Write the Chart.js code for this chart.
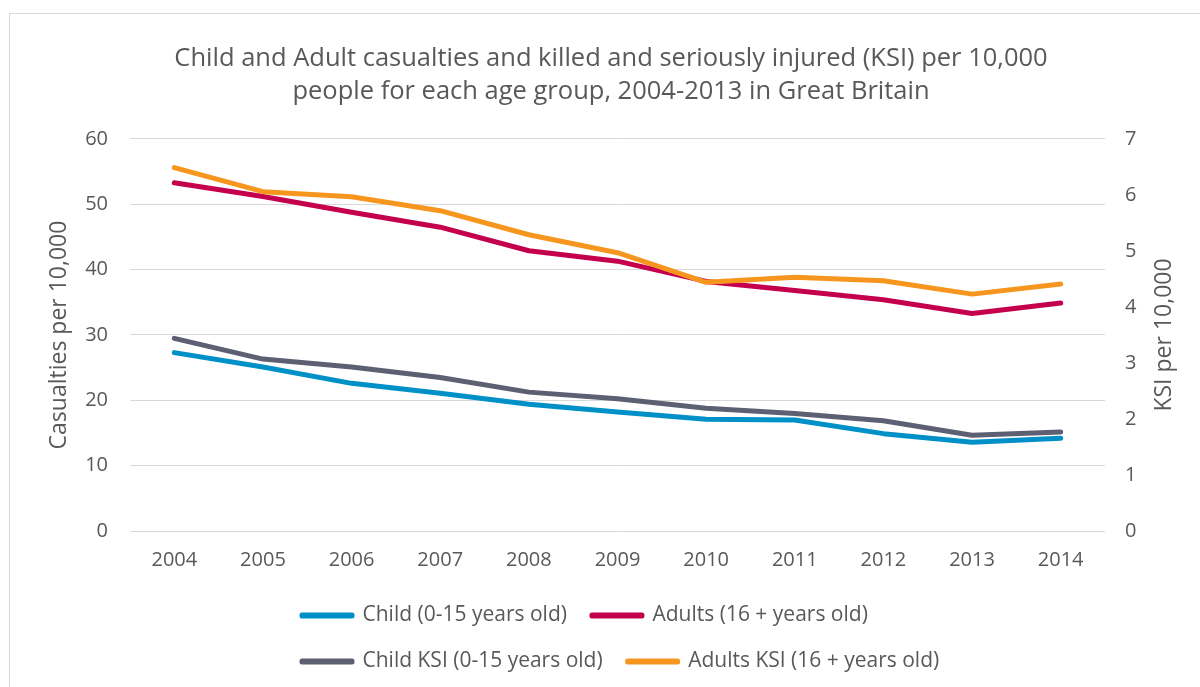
<!DOCTYPE html>
<html>
<head>
<meta charset="utf-8">
<script src="https://cdn.jsdelivr.net/npm/chart.js@4/dist/chart.umd.min.js"></script>
<style>
  html, body { margin: 0; padding: 0; background: #fff; overflow: hidden; width: 1200px; height: 687px; }
  #frame { position: absolute; left: 9px; top: 13px; width: 1220px; height: 700px;
           border-left: 1px solid #d9d9d9; border-top: 1px solid #d9d9d9; overflow: hidden; }
  #c { position: absolute; left: 0; top: 0; }
</style>
</head>
<body>
<div id="frame"><canvas id="c" width="1202" height="673"></canvas></div>
<script>
// ---- data ----
const years = ['2004','2005','2006','2007','2008','2009','2010','2011','2012','2013','2014'];
const child     = [27.3, 25.1, 22.6, 21.1, 19.4, 18.2, 17.1, 17.0, 14.9, 13.6, 14.2];
const adults    = [53.3, 51.2, 48.8, 46.5, 42.9, 41.3, 38.2, 36.8, 35.4, 33.3, 34.9];
const childKSI  = [3.44, 3.07, 2.93, 2.74, 2.48, 2.36, 2.19, 2.10, 1.97, 1.71, 1.77];
const adultsKSI = [6.49, 6.06, 5.97, 5.72, 5.29, 4.97, 4.44, 4.53, 4.47, 4.23, 4.41];
const seriesNames = ['Child (0-15 years old)', 'Adults (16 + years old)', 'Child KSI (0-15 years old)', 'Adults KSI (16 + years old)'];
const titleLines = ['Child and Adult casualties and killed and seriously injured (KSI) per 10,000', 'people for each age group, 2004-2013 in Great Britain'];
const leftTitle = 'Casualties per 10,000';
const rightTitle = 'KSI per 10,000';

const FONT = "'Open Sans', 'Noto Sans', sans-serif";
const TXT = '#595959';
const GRID = '#d9d9d9';
const LEGEND_LEFT = 267;
const LEGEND_W = 860;

function ds(label, data, color, axis, order) {
  return { label, data, yAxisID: axis, order,
    borderColor: color, backgroundColor: color, borderWidth: 5,
    borderCapStyle: 'round', borderJoinStyle: 'round',
    pointRadius: 0, pointHoverRadius: 0, tension: 0, fill: false };
}

const legendShape = {
  id: 'legendShape',
  beforeLayout(chart) {
    const lg = chart.legend;
    if (!lg || lg._patched) return;
    const fit = lg.fit;
    lg.fit = function () {
      const mw = this.maxWidth;
      this.maxWidth = LEGEND_W;
      fit.call(this);
      this.maxWidth = mw;
      this.width = mw;
      this.height = 100;
    };
    lg._patched = true;
  },
  afterLayout(chart) {
    const lg = chart.legend;
    lg.left = LEGEND_LEFT;
    lg.right = LEGEND_LEFT + LEGEND_W;
    lg.width = LEGEND_W;
    lg.top += 3;
    lg.bottom += 3;
  },
  afterDraw(chart) {
    const ctx = chart.ctx;
    ctx.save();
    ctx.font = "23px " + FONT;
    ctx.fillStyle = TXT;
    ctx.textAlign = 'center';
    ctx.textBaseline = 'middle';
    ctx.translate(1154, (chart.chartArea.top + chart.chartArea.bottom) / 2);
    ctx.rotate(-Math.PI / 2);
    ctx.fillText(rightTitle, 0, 0);
    ctx.restore();
  }
};

new Chart(document.getElementById('c'), {
  type: 'line',
  data: {
    labels: years,
    datasets: [
      ds(seriesNames[0], child, '#0090c8', 'y', 4),
      ds(seriesNames[1], adults, '#c4004e', 'y', 3),
      ds(seriesNames[2], childKSI, '#5d6073', 'y2', 2),
      ds(seriesNames[3], adultsKSI, '#f7961e', 'y2', 1)
    ]
  },
  plugins: [legendShape],
  options: {
    responsive: false,
    devicePixelRatio: 1,
    animation: false,
    events: [],
    layout: { padding: { left: 0, right: 0, top: 0, bottom: 10 } },
    plugins: {
      tooltip: { enabled: false },
      title: {
        display: true, text: titleLines, color: TXT,
        font: { family: FONT, size: 25.5, weight: 'normal', lineHeight: 1.294 },
        padding: { top: 28, bottom: 31 }
      },
      legend: {
        position: 'bottom',
        align: 'start',
        labels: {
          color: TXT, font: { family: FONT, size: 21 },
          boxWidth: 50, boxHeight: 1, padding: 25,
          sort: (a, b) => a.datasetIndex - b.datasetIndex
        }
      }
    },
    scales: {
      x: {
        type: 'category', offset: true,
        grid: { display: false, drawTicks: false },
        border: { display: false },
        ticks: { color: TXT, font: { family: FONT, size: 20 }, padding: 17, maxRotation: 0 },
        afterFit(s) { s.height = 46; }
      },
      y: {
        position: 'left', min: 0, max: 60,
        ticks: { stepSize: 10, color: TXT, font: { family: FONT, size: 20 }, padding: 22 },
        grid: { color: GRID, lineWidth: 1, drawTicks: false },
        border: { display: false },
        title: { display: true, text: leftTitle, color: TXT, font: { family: FONT, size: 23 }, padding: { top: 36, bottom: 0 } },
        afterFit(s) { s.width = 120; }
      },
      y2: {
        position: 'right', min: 0, max: 7,
        ticks: { stepSize: 1, color: TXT, font: { family: FONT, size: 20 }, padding: 20 },
        grid: { drawOnChartArea: false, drawTicks: false },
        border: { display: false },
        afterFit(s) { s.width = 107; }
      }
    }
  }
});
</script>
</body>
</html>
